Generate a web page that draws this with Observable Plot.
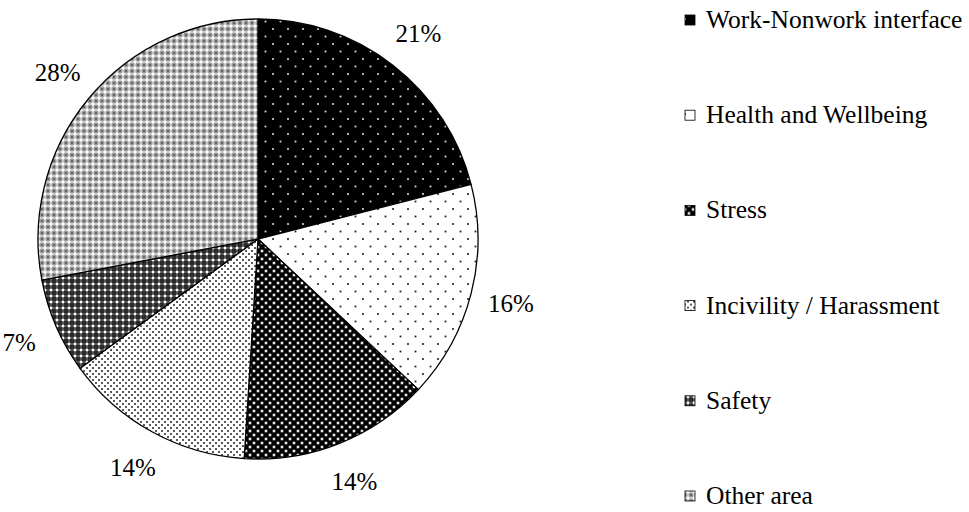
<!DOCTYPE html>
<html>
<head>
<meta charset="utf-8">
<script src="https://cdn.jsdelivr.net/npm/d3@7"></script>
<script src="https://cdn.jsdelivr.net/npm/@observablehq/plot@0.6"></script>
<style>
  html, body { margin: 0; padding: 0; background: #fff; }
  #chart svg { display: block; }
</style>
</head>
<body>
<div id="chart"></div>
<script>
// Research areas and their share of studies (%)
const categories = [
  "Work-Nonwork interface",
  "Health and Wellbeing",
  "Stress",
  "Incivility / Harassment",
  "Safety",
  "Other area"
];
const shares = [21, 16, 14, 14, 7, 28];

// Fill pattern used for each area, in the same order as categories
const patternIds = ["p-work", "p-health", "p-stress", "p-incivility", "p-safety", "p-other"];

const font = "'Liberation Serif', 'Times New Roman', serif";

// Angular layout of the slices, clockwise from 12 o'clock
const arcs = d3.pie().sort(null).value(d => d)(shares);
const slices = arcs.map((a, i) => ({
  category: categories[i],
  share: shares[i],
  start: a.startAngle,
  end: a.endAngle,
  mid: (a.startAngle + a.endAngle) / 2
}));

// Percentage labels sit just outside the rim
const labelRadius = 1.185;
const labels = slices.map(s => ({
  x: labelRadius * Math.sin(s.mid),
  y: labelRadius * Math.cos(s.mid),
  text: `${s.share}%`
}));

function definePatterns(defs) {
  // dot lattice: background, dot colour, cell size, dot size
  function dots(id, bg, fg, cell, size) {
    const p = defs.append("pattern").attr("id", id)
      .attr("patternUnits", "userSpaceOnUse")
      .attr("width", cell).attr("height", cell);
    p.append("rect").attr("width", cell).attr("height", cell).attr("fill", bg);
    for (const [x, y] of [[0, 0], [cell, 0], [0, cell], [cell, cell], [cell / 2, cell / 2]]) {
      p.append("rect").attr("x", x - size / 2).attr("y", y - size / 2)
        .attr("width", size).attr("height", size).attr("fill", fg);
    }
  }
  dots("p-work", "#000", "#d8d8d8", 15, 1.8);
  dots("p-health", "#fff", "#222", 15, 1.8);
  dots("p-stress", "#000", "#e8e8e8", 8, 2.6);
  dots("p-incivility", "#fff", "#333", 6, 1.8);

  // crosshatch weaves: background, cross colour, centre colour, corner dots
  function weave(id, bg, mid, hi, cell, arm, dot) {
    const p = defs.append("pattern").attr("id", id)
      .attr("patternUnits", "userSpaceOnUse")
      .attr("width", cell).attr("height", cell);
    p.append("rect").attr("width", cell).attr("height", cell).attr("fill", bg);
    const c = cell / 2;
    p.append("rect").attr("x", c - arm).attr("y", c - 0.75).attr("width", 2 * arm).attr("height", 1.5).attr("fill", mid);
    p.append("rect").attr("x", c - 0.75).attr("y", c - arm).attr("width", 1.5).attr("height", 2 * arm).attr("fill", mid);
    p.append("rect").attr("x", c - 1).attr("y", c - 1).attr("width", 2).attr("height", 2).attr("fill", hi);
    if (dot) {
      for (const [x, y] of [[0, 0], [cell, 0], [0, cell], [cell, cell]]) {
        p.append("rect").attr("x", x - 0.75).attr("y", y - 0.75)
          .attr("width", 1.5).attr("height", 1.5).attr("fill", dot);
      }
    }
  }
  weave("p-safety", "#2a2a2a", "#9a9a9a", "#ffffff", 6, 2.5, null);
  weave("p-other", "#9c9c9c", "#f2f2f2", "#ffffff", 6, 2.6, "#3a3a3a");
}

// Pie wedges, drawn with the plot's own x/y scales
function pieMark(index, scales) {
  const root = d3.create("svg:g");
  definePatterns(root.append("defs"));
  const cx = scales.x(0), cy = scales.y(0);
  const r = Math.abs(scales.x(1) - scales.x(0));
  const arc = d3.arc().innerRadius(0).outerRadius(r);
  root.append("g").attr("transform", `translate(${cx},${cy})`)
    .selectAll("path").data(slices).join("path")
      .attr("d", s => arc({startAngle: s.start, endAngle: s.end}))
      .attr("fill", (s, i) => `url(#${patternIds[i]})`)
      .attr("stroke", "#000")
      .attr("stroke-width", 1.3)
      .attr("stroke-linejoin", "round");
  return root.node();
}

// Legend column on the right
function legendMark(index, scales, values, dimensions) {
  const root = d3.create("svg:g").attr("text-anchor", "start");
  const x0 = dimensions.width - 284;
  const top = 19, step = 95.2;
  const rows = root.selectAll("g").data(categories).join("g")
    .attr("transform", (d, i) => `translate(${x0},${top + i * step})`);
  rows.append("rect")
    .attr("x", 0).attr("y", -4).attr("width", 10).attr("height", 10)
    .attr("fill", (d, i) => `url(#${patternIds[i]})`)
    .attr("stroke", "#000").attr("stroke-width", 0.8);
  rows.append("text")
    .attr("x", 21).attr("y", 0).attr("dy", "0.35em")
    .attr("text-anchor", "start")
    .attr("font-family", font).attr("font-size", 25.5)
    .attr("fill", "#000")
    .text(d => d);
  return root.node();
}

const chart = Plot.plot({
  width: 969,
  height: 512,
  margin: 0,
  style: {fontFamily: font, background: "#fff", overflow: "visible"},
  x: {domain: [-1, 1], range: [38, 478], axis: null},
  y: {domain: [-1, 1], range: [459, 19], axis: null},
  marks: [
    pieMark,
    Plot.text(labels, {x: "x", y: "y", text: "text", fontSize: 25, fill: "#000", fontFamily: font}),
    legendMark
  ]
});

document.getElementById("chart").appendChild(chart);
</script>
</body>
</html>
